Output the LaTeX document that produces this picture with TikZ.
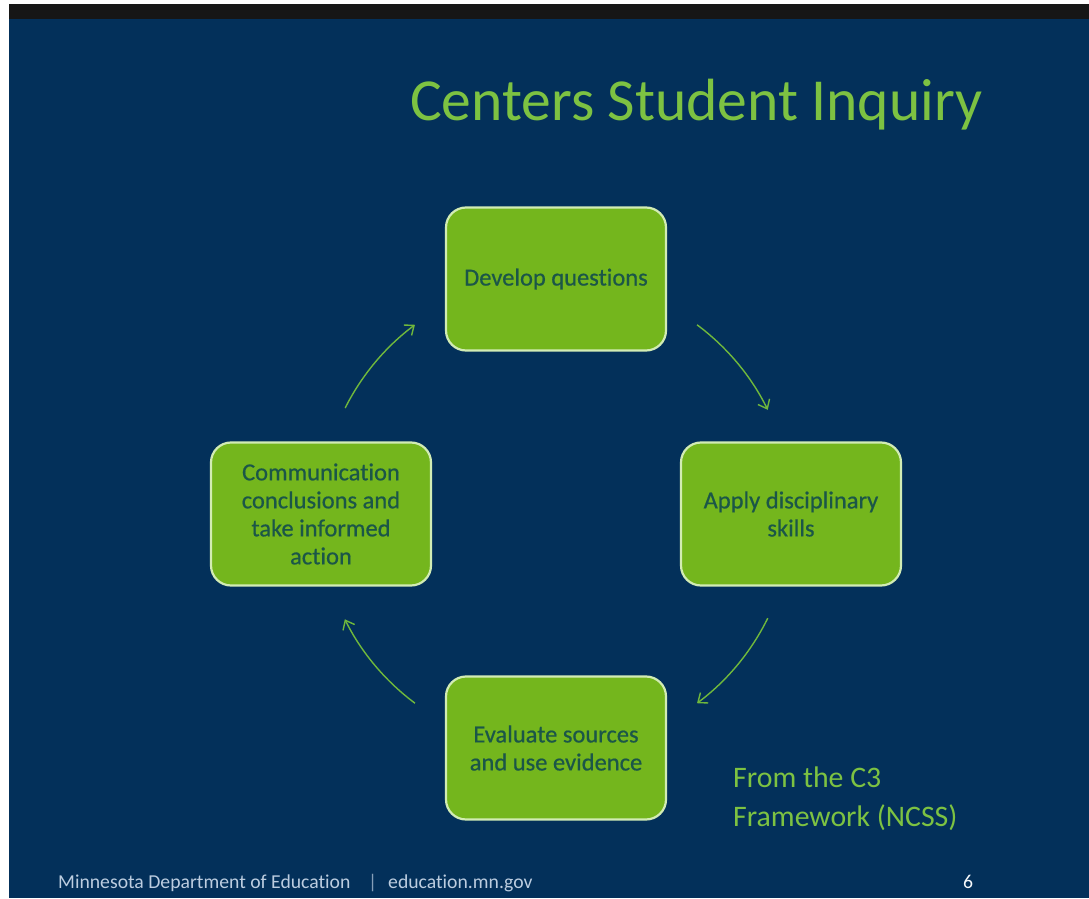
\documentclass[tikz,border=0pt]{standalone}
\usepackage{fontspec}
\setmainfont{Carlito}[Ligatures=NoCommon]
\newfontfamily\stagefont{Carlito}[FakeBold=0.6, Ligatures=NoCommon]
\usetikzlibrary{arrows.meta}
\definecolor{slidebg}{HTML}{03305A}
\definecolor{topbar}{HTML}{161616}
\definecolor{titlegreen}{HTML}{7DC242}
\definecolor{boxfill}{HTML}{74B61D}
\definecolor{boxedge}{HTML}{D2ECB4}
\definecolor{boxtext}{HTML}{1B5648}
\definecolor{flowgreen}{HTML}{70B83C}
\definecolor{footgrey}{HTML}{BCCDE0}
\tikzset{
  stagebox/.style={draw=boxedge, line width=2.2pt, fill=boxfill, rounded corners=20pt,
    minimum width=220pt, minimum height=143pt, inner sep=0pt, align=center,
    text=boxtext, font=\stagefont\fontsize{24.5}{28}\selectfont},
  flow/.style={draw=flowgreen, line width=1.4pt,
    -{Straight Barb[length=8pt,width=13pt,line width=1.4pt]}},
  foot/.style={text=footgrey, font=\fontsize{19.7}{22}\selectfont, inner sep=0pt, anchor=base west}
}
\begin{document}
\begin{tikzpicture}[x=1pt,y=1pt]
\useasboundingbox (0,0) rectangle (1089,898);
% page, slide and top strip
\fill[white] (0,0) rectangle (1089,898);
\fill[slidebg] (9,0) rectangle (1089,879);
\fill[topbar] (9,879) rectangle (1089,894);

% title
\node[anchor=base west, inner sep=0pt, text=titlegreen, font=\fontsize{59.6}{68}\selectfont]
  (title) at (410,777) {Centers Student Inquiry};

% the four stages of the cycle
\coordinate (hub) at (556,384);
\node[stagebox] (dev)  at (556,619) {Develop questions};
\node[stagebox] (app)  at (791,384) {Apply disciplinary\\skills};
\node[stagebox] (eval) at (556,150) {Evaluate sources\\and use evidence};
\node[stagebox] (comm) at (321,384) {Communication\\conclusions and\\take informed\\action};

% clockwise arcs between the stages
\draw[flow] (hub) ++(53.3:236) arc[start angle=53.3, end angle=26.2, radius=236];
\draw[flow] (hub) ++(-26.2:236) arc[start angle=-26.2, end angle=-53.3, radius=236];
\draw[flow] (hub) ++(233.3:236) arc[start angle=233.3, end angle=206.5, radius=236];
\draw[flow] (hub) ++(153.3:236) arc[start angle=153.3, end angle=126.7, radius=236];

% source note
\node[anchor=north west, inner sep=0pt, align=left, text=titlegreen,
  font=\fontsize{29.8}{39}\selectfont] (src) at (733,131) {From the C3\\Framework (NCSS)};

% footer
\node[foot] (dept) at (58,10) {Minnesota Department of Education};
\node[foot, text=footgrey!70!slidebg] (sep) at (368,10) {|};
\node[foot] (web) at (388,10) {education.mn.gov};
\node[foot, text=white!90!footgrey] (page) at (963,10) {6};
\end{tikzpicture}
\end{document}
